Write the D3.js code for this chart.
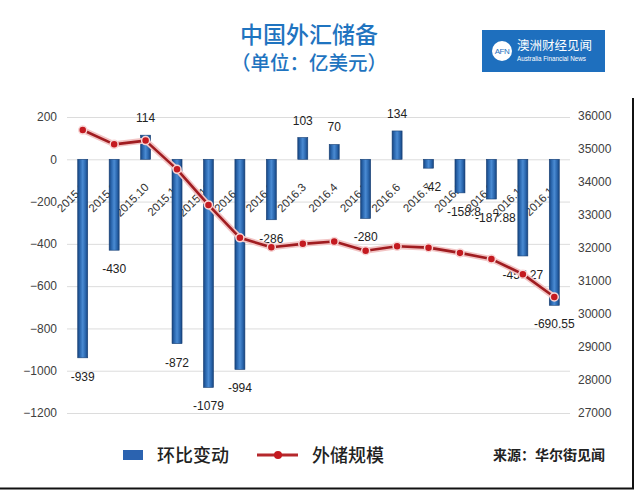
<!DOCTYPE html>
<html><head><meta charset="utf-8">
<script src="https://cdn.jsdelivr.net/npm/d3@7"></script>
<style>
html,body{margin:0;padding:0;background:#fff;}
svg{display:block;}
</style></head>
<body>
<svg id="chart" width="640" height="491"></svg>
<script>
const categories = ["2015.8","2015.9","2015.10","2015.11","2015.12","2016.1","2016.2","2016.3","2016.4","2016.5","2016.6","2016.7","2016.8","2016.9","2016.10","2016.11"];
const changeValues = [-939,-430,114,-872,-1079,-994,-286,103,70,-280,134,-42,-158.8,-187.88,-457.27,-690.55];
const changeLabels = ["-939","-430","114","-872","-1079","-994","-286","103","70","-280","134","-42","-158.8","-187.88","-457.27","-690.55"];
const reserveValues = [35574,35141,35255,34383,33304,32309,32023,32126,32197,31917,32052,32011,31852,31664,31207,30516];
const leftTicks = [200,0,-200,-400,-600,-800,-1000,-1200];
const rightTicks = [36000,35000,34000,33000,32000,31000,30000,29000,28000,27000];
const titleText = "中国外汇储备";
const subtitleText = "（单位：亿美元）";
const legendBar = "环比变动";
const legendLine = "外储规模";
const sourceText = "来源：华尔街见闻";

const svg = d3.select("#chart");
const plotL = 67, plotR = 570, plotT = 117, plotB = 413;

const x = d3.scaleBand().domain(categories).range([plotL, plotR]).padding(0);
const yL = d3.scaleLinear().domain([-1200, 200]).range([plotB, plotT]);
const yR = d3.scaleLinear().domain([27000, 36000]).range([plotB, 116]);
const cx = d => x(d) + x.bandwidth() / 2;

// defs
const defs = svg.append("defs");
const grad = defs.append("linearGradient").attr("id","barGrad").attr("x1","0%").attr("x2","100%").attr("y1","0%").attr("y2","0%");
[["0%","#17447e"],["22%","#2a66ad"],["50%","#4a8bd3"],["78%","#2a66ad"],["100%","#17447e"]].forEach(s=>grad.append("stop").attr("offset",s[0]).attr("stop-color",s[1]));

// title
svg.append("text").attr("x",309).attr("y",43).attr("text-anchor","middle")
  .attr("font-family","'Noto Sans CJK SC','Noto Sans',sans-serif").attr("font-size",23).attr("font-weight",500)
  .attr("fill","#1f74c0").text(titleText);
svg.append("text").attr("x",309).attr("y",70).attr("text-anchor","middle")
  .attr("font-family","'Noto Sans CJK SC','Noto Sans',sans-serif").attr("font-size",19.5).attr("font-weight",500)
  .attr("fill","#1f74c0").text(subtitleText);

// logo
const logo = svg.append("g");
logo.append("rect").attr("x",482).attr("y",30).attr("width",123).attr("height",42).attr("fill","#1e6fbe");
logo.append("circle").attr("cx",502).attr("cy",51).attr("r",10).attr("fill","#fff");
logo.append("text").attr("x",502).attr("y",54).attr("text-anchor","middle").attr("font-family","'Liberation Sans',sans-serif")
  .attr("font-size",8).attr("fill","#1e6fbe").attr("letter-spacing",-0.5).text("AFN");
logo.append("text").attr("x",517).attr("y",50).attr("font-family","'Noto Sans CJK SC',sans-serif").attr("font-size",12.5)
  .attr("fill","#fff").text("澳洲财经见闻");
logo.append("text").attr("x",517).attr("y",61).attr("font-family","'Liberation Sans',sans-serif").attr("font-size",6.3)
  .attr("fill","#fff").text("Australia Financial News");

// gridlines
svg.append("g").attr("transform",`translate(${plotL},0)`)
  .call(d3.axisRight(yL).tickValues(leftTicks).tickSize(plotR-plotL).tickFormat(""))
  .call(g=>g.select(".domain").remove())
  .call(g=>g.selectAll("line").attr("stroke","#dcdcdc").attr("stroke-width",1));

// left axis
svg.append("g").attr("transform",`translate(${plotL},0)`)
  .call(d3.axisLeft(yL).tickValues(leftTicks).tickSize(0).tickPadding(10).tickFormat(d3.format("d")))
  .call(g=>g.select(".domain").remove())
  .call(g=>g.selectAll("text").attr("font-family","'Liberation Sans',Arial,sans-serif").attr("font-size",12).attr("fill","#404040"));

// right axis
svg.append("g").attr("transform",`translate(${plotR},0)`)
  .call(d3.axisRight(yR).tickValues(rightTicks).tickSize(0).tickPadding(8).tickFormat(d3.format("d")))
  .call(g=>g.select(".domain").remove())
  .call(g=>g.selectAll("text").attr("font-family","'Liberation Sans',Arial,sans-serif").attr("font-size",12).attr("fill","#404040"));

// category labels (behind bars)
svg.append("g").selectAll("text").data(categories).join("text")
  .attr("transform",d=>`translate(${cx(d)+4},${188}) rotate(-45)`)
  .attr("text-anchor","end")
  .attr("font-family","'Liberation Sans',Arial,sans-serif").attr("font-size",11.5).attr("fill","#333")
  .text(d=>d);

// bars
const bw = 10;
svg.append("g").selectAll("rect").data(categories).join("rect")
  .attr("x",d=>cx(d)-bw/2)
  .attr("y",(d,i)=>Math.min(yL(0),yL(changeValues[i])))
  .attr("width",bw)
  .attr("height",(d,i)=>Math.abs(yL(changeValues[i])-yL(0)))
  .attr("fill","url(#barGrad)")
  .attr("stroke","#173f74").attr("stroke-width",0.6);

// bar value labels
svg.append("g").selectAll("text").data(categories).join("text")
  .attr("x",(d,i)=>cx(d)+(changeValues[i]<0 && changeValues[i]>-200 ? 4 : 0))
  .attr("y",(d,i)=>changeValues[i]>=0 ? yL(changeValues[i])-13 : yL(changeValues[i])+23)
  .attr("text-anchor","middle")
  .attr("font-family","'Liberation Sans',Arial,sans-serif").attr("font-size",12).attr("fill","#222")
  .text((d,i)=>changeLabels[i]);

// line
const line = d3.line().x((d,i)=>cx(categories[i])).y(d=>yR(d));
svg.append("path").datum(reserveValues).attr("d",line).attr("fill","none")
  .attr("stroke","#f2c4c4").attr("stroke-width",6).attr("stroke-linejoin","round");
svg.append("path").datum(reserveValues).attr("d",line).attr("fill","none")
  .attr("stroke","#a01c20").attr("stroke-width",2.6).attr("stroke-linejoin","round");
svg.append("g").selectAll("circle").data(reserveValues).join("circle")
  .attr("cx",(d,i)=>cx(categories[i])).attr("cy",d=>yR(d)).attr("r",4)
  .attr("fill","#c41a20").attr("stroke","#f7d6d6").attr("stroke-width",1.5);

// legend
const lg = svg.append("g");
lg.append("rect").attr("x",123).attr("y",450).attr("width",20).attr("height",10).attr("fill","#2b63b0");
lg.append("text").attr("x",157).attr("y",462).attr("font-family","'Noto Sans CJK SC',sans-serif").attr("font-size",18)
  .attr("font-weight",500).attr("fill","#222").text(legendBar);
lg.append("line").attr("x1",257).attr("x2",298).attr("y1",455).attr("y2",455).attr("stroke","#b5282c").attr("stroke-width",3);
lg.append("circle").attr("cx",278).attr("cy",455).attr("r",4).attr("fill","#c41a20");
lg.append("text").attr("x",312).attr("y",462).attr("font-family","'Noto Sans CJK SC',sans-serif").attr("font-size",18)
  .attr("font-weight",500).attr("fill","#222").text(legendLine);
svg.append("text").attr("x",493).attr("y",460).attr("font-family","'Noto Sans CJK SC',sans-serif").attr("font-size",14)
  .attr("font-weight",700).attr("fill","#222").text(sourceText);

// frame edges
svg.append("line").attr("x1",0).attr("x2",634).attr("y1",488.5).attr("y2",488.5).attr("stroke","#111").attr("stroke-width",2);
svg.append("line").attr("x1",633).attr("x2",633).attr("y1",98).attr("y2",489).attr("stroke","#111").attr("stroke-width",2);
</script>
</body></html>
